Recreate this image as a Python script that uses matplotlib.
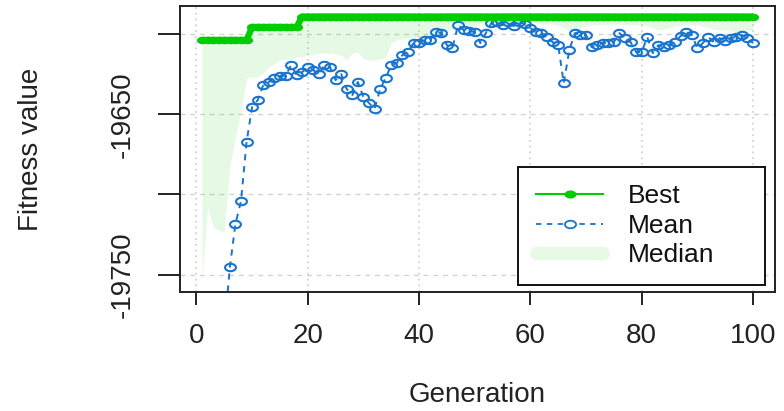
import numpy as np
import matplotlib
matplotlib.use("Agg")
import matplotlib.pyplot as plt
from matplotlib.path import Path
from matplotlib.lines import Line2D

plt.rcParams['font.family'] = ['Liberation Sans', 'DejaVu Sans']

generations = list(range(1, 101))

best = ([-19603.7] * 9) + ([-19595.6] * 9) + ([-19589.1] * 82)

mean = [-21500.0, -20800.0, -20300.0, -19950.0, -19785.0,
        -19745.4, -19718.5, -19704.2, -19667.4, -19645.5,
        -19641.2, -19631.8, -19629.9, -19627.4, -19626.2,
        -19626.2, -19619.3, -19625.6, -19623.7, -19620.6,
        -19622.5, -19625.0, -19619.3, -19620.6, -19628.7,
        -19625.0, -19634.3, -19638.1, -19629.9, -19639.3,
        -19643.0, -19646.8, -19634.3, -19627.4, -19619.3,
        -19618.1, -19613.1, -19611.2, -19605.6, -19605.6,
        -19603.7, -19603.7, -19598.8, -19599.4, -19606.9,
        -19608.7, -19594.4, -19597.5, -19598.1, -19598.8,
        -19605.6, -19599.4, -19593.1, -19592.5, -19594.4,
        -19592.5, -19595.0, -19592.5, -19593.8, -19596.3,
        -19598.8, -19599.4, -19601.9, -19605.0, -19606.9,
        -19630.6, -19610.0, -19599.4, -19600.6, -19600.6,
        -19608.1, -19606.9, -19605.6, -19605.6, -19605.0,
        -19599.4, -19602.5, -19605.0, -19611.2, -19611.2,
        -19601.9, -19611.9, -19606.9, -19608.1, -19606.9,
        -19605.0, -19601.2, -19598.8, -19600.6, -19608.7,
        -19605.6, -19601.9, -19605.0, -19602.5, -19604.4,
        -19602.5, -19601.9, -19600.6, -19602.5, -19605.6]

median = [-19752.8, -19707.9, -19720.4, -19722.3, -19723.5,
          -19681.7, -19664.3, -19647.4, -19627.4, -19626.8,
          -19626.8, -19624.3, -19620.6, -19618.7, -19616.2,
          -19615.6, -19615.6, -19614.3, -19614.2, -19613.1,
          -19613.1, -19611.9, -19611.9, -19611.7, -19612.5,
          -19613.1, -19616.2, -19611.9, -19611.2, -19615.0,
          -19616.2, -19616.2, -19615.6, -19614.3, -19605.6,
          -19603.7, -19603.1, -19602.5, -19601.9, -19601.7,
          -19601.2, -19600.0, -19599.4, -19598.6, -19597.5,
          -19596.9, -19596.3, -19595.6, -19595.4, -19595.0,
          -19593.8, -19593.8, -19593.8, -19593.8, -19593.8,
          -19593.8, -19593.1, -19593.1, -19593.1, -19593.1,
          -19593.1, -19593.8, -19593.8, -19593.8, -19594.4,
          -19596.3, -19597.5, -19596.9, -19596.3, -19595.0,
          -19594.4, -19594.4, -19594.1, -19593.8, -19593.8,
          -19593.9, -19594.1, -19594.4, -19594.4, -19594.4,
          -19595.0, -19596.3, -19597.5, -19596.9, -19596.3,
          -19595.0, -19594.8, -19594.4, -19594.4, -19594.4,
          -19595.0, -19596.3, -19596.9, -19597.5, -19597.5,
          -19598.1, -19598.6, -19598.1, -19597.5, -19597.5]

x_ticks = [0, 20, 40, 60, 80, 100]
y_ticks = [-19750, -19700, -19650, -19600]
y_tick_labels = ['-19750', '', '-19650', '']
legend_labels = ['Best', 'Mean', 'Median']

GREEN = '#00CD00'
BLUE = '#1874CD'

# elliptical marker (reference image is horizontally stretched)
theta = np.linspace(0, 2 * np.pi, 60)
ell = Path(np.column_stack([np.cos(theta), 0.68 * np.sin(theta)]), closed=True)

fig = plt.figure(figsize=(7.84, 4.11), dpi=100)
ax = fig.add_axes([180 / 784, (411 - 292) / 411, 595 / 784, 286 / 411])

ax.set_xlim(-2.96, 103.96)
ax.set_ylim(-19760.9, -19582.5)

for yt in y_ticks:
    ax.axhline(yt, color='#D3D3D3', lw=1.0, ls=(0, (3.5, 3.5)), zorder=0.5)
for xt in x_ticks:
    ax.axvline(xt, color='#D3D3D3', lw=1.3, ls=(0, (1.0, 2.2)), zorder=0.5)

ax.fill_between(generations, median, best, color=GREEN, alpha=0.1, lw=0, zorder=1)

ax.plot(generations, mean, ls='none', marker=ell, ms=7.8, mfc='none',
        mec=BLUE, mew=1.5, zorder=2)
ax.plot(generations, mean, color=BLUE, lw=1.4, ls=(0, (3.2, 3)), zorder=2.1)
ax.plot(generations, best, color=GREEN, lw=4.6, marker=ell, ms=8, mfc=GREEN,
        mec=GREEN, mew=0, zorder=3, solid_capstyle='butt')

ax.set_xticks(x_ticks)
ax.set_yticks(y_ticks)
ax.set_yticklabels(y_tick_labels)
ax.tick_params(axis='x', length=9.5, width=1.4, pad=13, labelsize=20, colors='#222222')
ax.tick_params(axis='y', length=16, width=1.4, pad=16, labelsize=20, colors='#222222')
for lab in ax.get_yticklabels():
    lab.set_rotation(90)
    lab.set_va('center')
for sp in ax.spines.values():
    sp.set_linewidth(1.4)
    sp.set_color('#222222')

ax.set_xlabel('Generation', fontsize=20, va='center', color='#222222')
ax.xaxis.set_label_coords(0.5, -0.36)
ax.set_ylabel('Fitness value', fontsize=20, va='center', color='#222222')
ax.yaxis.set_label_coords(-0.25, 0.5)

handles = [
    Line2D([], [], color=GREEN, lw=1.5, marker=ell, ms=8.5, mfc=GREEN, mec=GREEN, mew=0),
    Line2D([], [], color=BLUE, lw=1.3, ls=(0, (3, 3)), marker=ell, ms=8, mfc='white',
           mec=BLUE, mew=1.3),
    Line2D([], [], color='#E6FAE6', lw=9.5, solid_capstyle='round'),
]
leg = ax.legend(handles, legend_labels, loc='lower left',
                bbox_to_anchor=((518 - 180) / 595, 0.0245, 247 / 595, 0.41),
                mode='expand', borderaxespad=0, fontsize=19, handlelength=2.55,
                handletextpad=0.95, labelspacing=0.2, borderpad=0.68,
                fancybox=False, edgecolor='#111111', framealpha=1)
leg.get_frame().set_linewidth(1.4)
for t in leg.get_texts():
    t.set_color('#111111')

fig.savefig('out.png', dpi=100)
